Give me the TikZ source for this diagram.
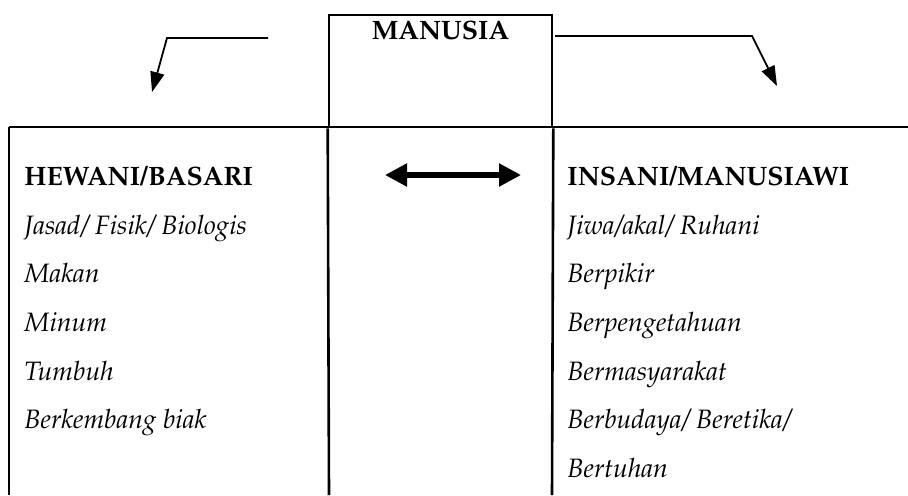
\documentclass[tikz,border=0pt]{standalone}
\usepackage[T1]{fontenc}
\usepackage{mathpazo}
\usepackage{tikz}
\usetikzlibrary{arrows.meta, positioning}

\tikzset{
  garis/.style={line width=1.3pt},
  panah/.style={line width=0.9pt, -{Triangle[length=10pt,width=7pt]}},
  panahganda/.style={line width=2.6pt, {Triangle[length=11pt,width=11pt]}-{Triangle[length=11pt,width=11pt]}},
  judul/.style={font=\fontsize{13.3}{16}\selectfont\bfseries, inner sep=0pt, anchor=base west},
  isi/.style={font=\fontsize{13.3}{16}\selectfont\itshape, inner sep=0pt, anchor=base west}
}

\begin{document}
\begin{tikzpicture}[x=0.5pt,y=-0.5pt]
        \useasboundingbox (0,0) rectangle (908,495);
        % kotak atas
        \node[garis,draw,minimum width=111.5pt,minimum height=56pt,inner sep=0pt] (manusia) at (440.5,71) {};
        \node[judul,anchor=base] (manusiaTeks) at (440.5,39) {MANUSIA};

        % tabel
        \coordinate (tabelKiri) at (9,127);
        \coordinate (tabelKanan) at (908,127);
        \coordinate (bawahKiri) at (9,495);
        \coordinate (bawahTengahKiri) at (329,495);
        \coordinate (bawahTengahKanan) at (552,495);
        \draw[garis] (tabelKiri) -- (tabelKanan);
        \draw[garis] (tabelKiri) -- (bawahKiri);
        \draw[garis] (manusia.south west) -- (bawahTengahKiri);
        \draw[garis] (manusia.south east) -- (bawahTengahKanan);

        % panah dari manusia
        \coordinate (kiriAwal) at (268,38);
        \coordinate (kiriTekuk) at (167,38);
        \coordinate (kiriUjung) at (152,92);
        \coordinate (kananAwal) at (555,36);
        \coordinate (kananTekuk) at (752,36);
        \coordinate (kananUjung) at (777,86);
        \draw[panah] (kiriAwal) -- (kiriTekuk) -- (kiriUjung);
        \draw[panah] (kananAwal) -- (kananTekuk) -- (kananUjung);

        % isi kiri
        \node[judul] (hewani) at (24,185) {HEWANI/BASARI};
        \node[isi] (jasad) at (24,234) {Jasad/ Fisik/ Biologis};
        \node[isi] (makan) at (24,282) {Makan};
        \node[isi] (minum) at (24,331) {Minum};
        \node[isi] (tumbuh) at (24,380) {Tumbuh};
        \node[isi] (berkembang) at (24,428) {Berkembang biak};

        % isi kanan
        \node[judul] (insani) at (567,185) {INSANI/MANUSIAWI};
        \node[isi] (jiwa) at (567,234) {Jiwa/akal/ Ruhani};
        \node[isi] (berpikir) at (567,282) {Berpikir};
        \node[isi] (berpengetahuan) at (567,331) {Berpengetahuan};
        \node[isi] (bermasyarakat) at (567,380) {Bermasyarakat};
        \node[isi] (berbudaya) at (567,428) {Berbudaya/ Beretika/};
        \node[isi] (bertuhan) at (567,477) {Bertuhan};

        % panah dua arah
        \coordinate (gandaKiri) at (385,175);
        \coordinate (gandaKanan) at (521,175);
        \draw[panahganda] (gandaKiri) -- (gandaKanan);
\end{tikzpicture}
\end{document}
